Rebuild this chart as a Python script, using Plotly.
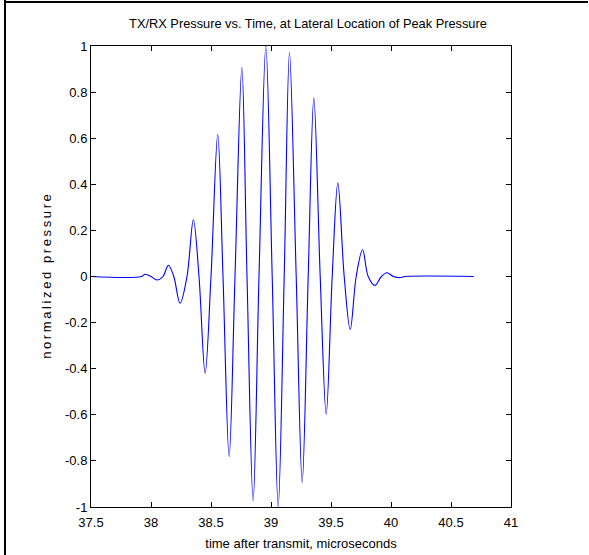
import plotly.graph_objects as go

# --- data ---
time_us = [37.50, 37.92, 37.95, 38.00, 38.05, 38.10, 38.145, 38.19, 38.242, 38.30,
           38.353, 38.40, 38.451, 38.50, 38.556, 38.60, 38.651, 38.70, 38.757, 38.80,
           38.851, 38.90, 38.957, 39.01, 39.06, 39.11, 39.154, 39.21, 39.26, 39.31,
           39.357, 39.41, 39.46, 39.51, 39.557, 39.61, 39.66, 39.71, 39.763, 39.81,
           39.866, 39.92, 39.966, 40.02, 40.07, 40.12, 40.69]
pressure = [0.0, 0.0, 0.01, 0.0, -0.015, 0.0, 0.049, 0.0, -0.116, 0.0,
            0.246, 0.0, -0.419, 0.0, 0.616, 0.0, -0.781, 0.0, 0.906, 0.0,
            -0.974, 0.0, 1.0, 0.0, -1.0, 0.0, 0.972, 0.0, -0.894, 0.0,
            0.775, 0.0, -0.597, 0.0, 0.406, 0.0, -0.230, 0.0, 0.116, 0.0,
            -0.039, 0.0, 0.016, 0.0, -0.005, 0.0, 0.0]

x_ticks = [37.5, 38, 38.5, 39, 39.5, 40, 40.5, 41]
x_tick_labels = ["37.5", "38", "38.5", "39", "39.5", "40", "40.5", "41"]
y_ticks = [-1, -0.8, -0.6, -0.4, -0.2, 0, 0.2, 0.4, 0.6, 0.8, 1]
y_tick_labels = ["-1", "-0.8", "-0.6", "-0.4", "-0.2", "0", "0.2", "0.4", "0.6", "0.8", "1"]

title_text = "TX/RX Pressure vs. Time, at Lateral Location of Peak Pressure"
x_title = "time after transmit, microseconds"
y_title = "normalized pressure"

W, H = 589, 555
L, R, T, B = 91, 78, 46, 48
PW, PH = W - L - R, H - T - B
FONT = "Liberation Sans, Arial, sans-serif"

def spaced(s):
    return "\u2009".join(s)

fig = go.Figure()
fig.add_trace(go.Scatter(
    x=time_us, y=pressure, mode="lines",
    line=dict(color="#0000FF", width=1.1, shape="spline", smoothing=1.0),
    showlegend=False, hoverinfo="x+y"))

axis_common = dict(
    showline=True, linecolor="black", linewidth=1, mirror="ticks",
    ticks="inside", ticklen=5, tickcolor="black", tickwidth=1,
    showgrid=False, zeroline=False, automargin=False,
    tickfont=dict(family=FONT, size=13, color="black"),
)

fig.update_layout(
    width=W, height=H,
    margin=dict(l=L, r=R, t=T, b=B, pad=0, autoexpand=False),
    paper_bgcolor="white", plot_bgcolor="white",
    font=dict(family=FONT, color="black"),
    title=dict(text=title_text, x=(308 - L) / PW, xref="paper", xanchor="center",
               y=1 - 24 / H, yref="container", yanchor="middle",
               font=dict(family=FONT, size=12.8, color="black")),
    xaxis=dict(range=[37.5, 41], tickvals=x_ticks, ticktext=x_tick_labels,
               ticklabelstandoff=3,
               title=dict(text=x_title, font=dict(family=FONT, size=13), standoff=10),
               **axis_common),
    yaxis=dict(range=[-1, 1], tickvals=y_ticks, ticktext=y_tick_labels,
               title=dict(text=spaced(y_title), font=dict(family=FONT, size=13), standoff=10),
               **axis_common),
    shapes=[
        # page frame lines visible in the reference
        dict(type="line", xref="paper", yref="paper",
             x0=(5 - L) / PW, x1=(5 - L) / PW, y0=-B / PH, y1=(H - B) / PH,
             line=dict(color="black", width=2)),
        dict(type="line", xref="paper", yref="paper",
             x0=(5 - L) / PW, x1=(588 - L) / PW, y0=(H - B - 2) / PH, y1=(H - B - 2) / PH,
             line=dict(color="black", width=2)),
    ],
)

fig.write_html("out.html")
